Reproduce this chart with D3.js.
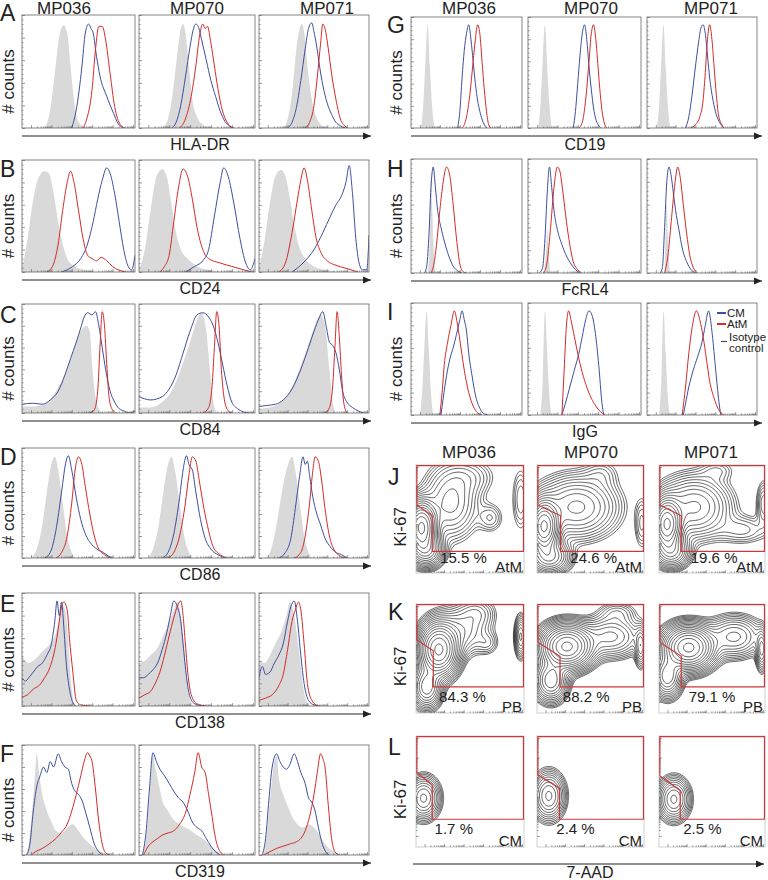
<!DOCTYPE html>
<html><head><meta charset="utf-8">
<script src="https://cdn.jsdelivr.net/npm/d3@7"></script>
<style>
body{margin:0;background:#fff}
text{font-family:"Liberation Sans",Arial,Helvetica,sans-serif;fill:#222}
</style>
</head><body>
<svg id="c" width="768" height="880"></svg>
<script>
// ---------------- DATA ----------------
const patients = ["MP036", "MP070", "MP071"];
const histLetters = ["A","B","C","D","E","F","G","H","I"];
const markers = ["HLA-DR","CD24","CD84","CD86","CD138","CD319","CD19","FcRL4","IgG"];
const legendLabels = ["CM", "AtM", "Isotype", "control"];

// histogram curves: [position % of axis, % of panel height], one array per patient
const A_iso = [
 [[20,0],[25,16],[29,48],[33,81],[37,91],[40,84],[43,54],[46,25],[50,5],[57,0]],
 [[20,0],[25,8],[29,30],[33,65],[36,88],[38,92],[40,85],[43,55],[46,25],[50,10],[55,3],[60,0]],
 [[22,0],[26,8],[30,30],[34,70],[37,88],[39,92],[41,85],[44,55],[48,25],[52,10],[56,3],[60,0]]];
const A_cm = [
 [[44,0],[48,16],[53,54],[56,84],[59,92],[61,88],[63,84],[66,63],[69,46],[75,28],[81,13],[85,4],[90,0]],
 [[28,0],[32,5],[36,20],[40,45],[44,72],[47,88],[49,92],[51,90],[54,78],[58,60],[62,42],[66,28],[70,15],[74,6],[78,2],[82,0]],
 [[26,0],[30,5],[34,18],[38,42],[42,70],[45,88],[48,93],[50,85],[52,75],[55,55],[58,38],[62,22],[66,12],[70,5],[74,2],[78,0]]];
const A_atm = [
 [[54,0],[57,7],[62,34],[65,69],[68,90],[71,90],[74,78],[78,48],[82,19],[87,3],[91,0]],
 [[35,0],[40,8],[45,28],[49,55],[52,80],[55,92],[57,88],[59,90],[62,75],[65,55],[68,35],[72,15],[76,5],[80,0]],
 [[42,0],[46,5],[50,20],[53,45],[56,75],[58,92],[60,88],[63,70],[66,48],[70,25],[74,8],[78,2],[80,0]]];

const B_iso = [
 [[0,3],[5,30],[10,65],[15,85],[20,90],[24,88],[28,70],[32,45],[36,25],[40,12],[45,6],[55,2],[65,0]],
 [[0,2],[5,20],[10,55],[15,85],[20,92],[24,85],[28,60],[32,35],[36,20],[42,12],[50,5],[60,2],[70,0]],
 [[0,3],[5,28],[10,62],[15,86],[20,91],[24,86],[28,66],[32,42],[36,24],[42,12],[50,5],[60,2],[70,0]]];
const B_cm = [
 [[35,0],[45,5],[52,12],[58,25],[63,45],[67,65],[71,82],[75,93],[78,88],[82,70],[86,45],[90,20],[94,5],[97,2],[100,15]],
 [[40,0],[48,5],[55,10],[60,20],[65,50],[70,80],[73,93],[77,85],[82,60],[87,30],[92,8],[96,2],[100,12]],
 [[30,0],[40,8],[50,20],[58,35],[65,50],[70,60],[75,68],[79,80],[82,95],[85,70],[88,30],[91,8],[94,2],[98,2],[100,33]]];
const B_atm = [
 [[22,0],[27,5],[32,25],[36,55],[40,80],[43,90],[46,80],[50,55],[54,30],[58,15],[62,12],[66,10],[70,13],[75,10],[80,5],[85,2],[92,0]],
 [[18,0],[22,5],[26,15],[30,45],[34,75],[38,92],[42,85],[46,65],[50,40],[55,20],[60,12],[70,8],[80,5],[90,2],[97,0]],
 [[18,0],[24,8],[30,35],[35,65],[38,82],[41,93],[44,82],[48,55],[52,30],[56,18],[62,10],[70,6],[80,3],[90,0]]];

const C_iso = [
 [[0,6],[10,6],[20,8],[30,20],[38,35],[45,55],[52,75],[57,80],[60,75],[62,45],[65,15],[68,4],[72,0]],
 [[0,5],[10,5],[20,10],[28,20],[36,40],[44,65],[50,85],[54,92],[58,75],[62,30],[65,5],[68,0]],
 [[0,4],[10,5],[20,10],[28,20],[36,38],[44,60],[50,78],[56,90],[60,80],[64,40],[67,10],[70,0]]];
const C_cm = [
 [[0,8],[10,9],[18,8],[25,12],[32,20],[38,35],[43,50],[48,65],[52,78],[55,88],[58,92],[62,90],[65,93],[68,80],[71,60],[74,40],[78,20],[82,10],[86,4],[90,2],[95,0],[100,2]],
 [[0,15],[10,12],[20,15],[26,22],[32,35],[38,55],[44,75],[50,90],[55,92],[60,88],[64,80],[68,65],[72,45],[76,25],[80,10],[85,4],[90,1],[95,0]],
 [[0,6],[8,7],[15,8],[22,12],[30,22],[38,40],[45,60],[50,75],[55,88],[58,93],[61,80],[64,65],[67,62],[70,55],[73,40],[76,20],[80,10],[85,5],[90,2],[95,0]]];
const C_atm = [
 [[60,0],[64,3],[67,20],[69,60],[71,93],[73,80],[75,45],[77,15],[80,3],[84,0]],
 [[55,0],[60,5],[63,25],[65,60],[67,93],[69,80],[71,40],[74,10],[77,2],[80,0]],
 [[60,0],[64,5],[67,25],[69,60],[71,93],[73,70],[75,35],[77,10],[80,0]]];

const D_iso = [
 [[8,0],[13,8],[18,30],[22,60],[26,85],[29,92],[32,80],[36,50],[40,20],[44,5],[48,0]],
 [[8,0],[12,8],[17,30],[21,60],[25,85],[28,92],[31,80],[35,50],[39,20],[43,5],[47,0]],
 [[6,0],[10,5],[15,25],[20,55],[25,80],[30,92],[33,80],[37,50],[41,20],[45,5],[49,0]]];
const D_cm = [
 [[20,0],[25,5],[30,25],[35,60],[39,88],[41,93],[44,80],[48,55],[52,35],[56,22],[62,12],[68,7],[72,5],[76,2],[80,0]],
 [[20,0],[25,5],[30,22],[35,55],[38,80],[41,93],[43,85],[46,80],[49,60],[53,35],[57,18],[62,8],[68,3],[74,0]],
 [[18,0],[24,5],[29,18],[33,45],[37,75],[40,92],[42,85],[44,88],[46,75],[49,55],[52,42],[56,30],[60,18],[65,10],[70,5],[75,3],[80,0]]];
const D_atm = [
 [[30,0],[35,5],[40,20],[44,50],[47,80],[50,92],[53,85],[56,65],[60,40],[64,20],[68,8],[73,3],[78,0]],
 [[25,0],[30,5],[35,20],[40,50],[43,75],[46,92],[49,88],[52,70],[56,45],[60,25],[64,10],[70,3],[76,0]],
 [[32,0],[38,5],[42,20],[46,50],[49,80],[51,92],[54,88],[57,70],[60,45],[64,20],[68,8],[72,3],[78,0]]];

const E_iso = [
 [[0,45],[3,40],[6,38],[10,40],[15,45],[20,50],[25,55],[30,65],[33,78],[35,90],[38,85],[40,70],[42,40],[44,15],[46,3],[48,0]],
 [[0,38],[5,40],[10,45],[15,50],[20,60],[25,72],[30,85],[33,92],[36,80],[39,50],[42,20],[44,5],[46,0]],
 [[0,40],[5,38],[10,45],[15,55],[20,65],[25,80],[28,92],[31,85],[35,60],[38,35],[41,12],[44,3],[47,0]]];
const E_cm = [
 [[0,25],[3,22],[6,25],[10,30],[14,35],[18,38],[22,45],[26,55],[29,75],[31,93],[33,80],[35,92],[37,70],[39,40],[42,15],[45,3],[48,0]],
 [[0,25],[4,25],[8,28],[12,32],[16,38],[20,50],[24,65],[27,80],[30,93],[33,88],[36,75],[38,55],[41,25],[44,8],[48,2],[55,0]],
 [[0,25],[3,35],[6,28],[10,30],[14,38],[18,45],[22,55],[26,75],[29,88],[32,93],[35,75],[38,45],[41,20],[45,5],[50,1],[56,0]]];
const E_atm = [
 [[0,8],[5,10],[10,15],[15,18],[20,25],[25,35],[30,55],[33,75],[35,88],[37,92],[40,85],[42,60],[45,30],[48,5],[52,1],[60,0]],
 [[0,7],[5,10],[10,13],[14,20],[18,30],[22,45],[26,62],[30,78],[33,88],[36,93],[38,80],[40,55],[42,30],[45,10],[50,2],[58,0]],
 [[0,5],[6,7],[12,10],[18,18],[22,28],[26,50],[30,75],[33,85],[36,92],[38,85],[41,55],[44,20],[48,5],[54,0]]];

const F_iso = [
 [[3,0],[6,10],[9,40],[12,80],[13,93],[15,75],[18,55],[22,40],[26,30],[30,22],[35,20],[40,25],[45,28],[50,22],[55,15],[60,10],[66,5],[72,2],[78,0]],
 [[3,0],[6,15],[9,50],[12,90],[14,80],[17,65],[20,50],[25,40],[30,32],[35,28],[40,25],[45,22],[50,18],[55,15],[60,10],[65,5],[70,2],[75,0]],
 [[3,0],[6,10],[10,50],[14,85],[16,90],[18,70],[22,55],[26,45],[30,35],[35,28],[40,25],[45,28],[50,25],[55,18],[60,10],[65,5],[70,2],[75,0]]];
const F_cm = [
 [[4,0],[7,10],[10,40],[13,62],[16,72],[19,80],[22,75],[25,85],[28,80],[32,92],[35,85],[38,80],[41,78],[44,65],[47,58],[50,55],[53,50],[56,40],[60,25],[64,10],[68,3],[72,0]],
 [[3,0],[6,20],[9,60],[12,93],[15,85],[18,78],[22,72],[26,65],[30,58],[34,52],[38,48],[42,40],[46,30],[50,25],[54,22],[58,15],[62,8],[66,3],[70,0]],
 [[3,0],[6,15],[9,50],[12,80],[16,92],[19,85],[22,80],[25,78],[28,82],[32,92],[35,85],[38,75],[42,65],[45,52],[48,48],[51,40],[54,25],[57,12],[60,4],[64,0]]];
const F_atm = [
 [[8,0],[12,3],[18,6],[24,10],[30,15],[36,22],[40,28],[44,40],[48,55],[52,72],[55,85],[58,93],[60,90],[62,85],[65,60],[68,30],[71,10],[74,2],[78,0]],
 [[4,0],[8,8],[12,12],[16,15],[20,18],[25,20],[30,22],[35,28],[40,38],[44,55],[48,75],[51,93],[54,80],[57,75],[60,55],[63,35],[66,15],[70,3],[74,0]],
 [[4,0],[10,3],[16,6],[22,8],[28,10],[34,12],[38,15],[42,22],[46,35],[50,55],[53,75],[56,92],[58,88],[60,80],[63,45],[66,15],[69,3],[73,0]]];

const G_iso = [
 [[9,0],[11,20],[13,60],[15,93],[17,55],[19,20],[21,0]],
 [[9,0],[11,20],[13,60],[15,93],[17,55],[19,20],[21,0]],
 [[9,0],[11,20],[13,60],[15,93],[17,55],[19,20],[21,0]]];
const G_cm = [
 [[42,0],[44,15],[46,45],[48,70],[50,85],[52,93],[54,80],[56,60],[58,40],[60,25],[62,15],[64,8],[66,3],[68,0]],
 [[40,0],[42,15],[44,40],[46,65],[48,85],[50,93],[52,80],[54,55],[56,35],[58,18],[60,8],[62,3],[65,0]],
 [[35,0],[38,10],[41,30],[44,55],[47,78],[49,90],[51,93],[53,85],[55,65],[57,45],[60,25],[63,12],[66,5],[70,0]]];
const G_atm = [
 [[46,0],[48,3],[50,10],[53,30],[56,60],[58,80],[60,93],[62,85],[64,60],[66,35],[68,15],[70,3],[72,0]],
 [[45,0],[48,5],[51,25],[54,60],[56,85],[58,93],[60,80],[62,55],[64,30],[66,12],[68,3],[70,0]],
 [[40,0],[44,3],[48,10],[51,25],[53,50],[55,80],[57,93],[59,80],[61,55],[63,30],[65,12],[68,3],[70,0]]];

const H_iso = [
 [[15,0],[17,30],[18,90],[19,60],[21,10],[22,0]],
 [[14,0],[16,20],[17,40],[18,20],[20,0]],
 [[16,0],[17,40],[18,60],[19,30],[21,0]]];
const H_cm = [
 [[12,0],[14,5],[16,30],[18,75],[20,93],[22,75],[24,55],[27,40],[30,28],[34,15],[38,6],[42,2],[46,0]],
 [[10,0],[13,5],[15,30],[17,70],[19,93],[21,75],[23,55],[26,38],[30,25],[34,15],[38,8],[42,3],[46,0]],
 [[12,0],[14,5],[16,40],[18,80],[20,93],[22,85],[24,70],[26,55],[29,38],[32,22],[36,10],[40,3],[44,0]]];
const H_atm = [
 [[18,0],[20,5],[23,25],[26,55],[29,80],[32,93],[35,85],[38,60],[41,30],[44,8],[47,1],[50,0]],
 [[14,0],[17,10],[20,40],[23,75],[26,93],[28,90],[31,70],[34,45],[37,25],[40,10],[44,3],[48,0]],
 [[16,0],[19,15],[22,45],[25,75],[28,93],[30,85],[33,60],[36,35],[39,15],[42,5],[46,0]]];

const I_iso = [
 [[8,0],[10,20],[12,60],[14,93],[16,60],[18,20],[20,0]],
 [[11,0],[13,30],[15,93],[17,55],[19,15],[21,0]],
 [[11,0],[13,30],[15,93],[17,55],[19,15],[21,0]]];
const I_cm = [
 [[27,0],[29,15],[32,35],[35,50],[38,60],[41,72],[44,85],[46,93],[48,85],[50,75],[52,55],[55,35],[58,18],[62,6],[66,1],[70,0]],
 [[30,0],[33,10],[37,25],[41,40],[45,55],[48,70],[51,85],[54,93],[57,88],[60,70],[63,40],[65,15],[67,0]],
 [[33,0],[35,10],[38,25],[42,40],[46,52],[50,65],[53,80],[56,93],[59,75],[62,45],[65,15],[67,0]]];
const I_atm = [
 [[26,0],[28,20],[30,45],[33,65],[36,80],[39,93],[42,80],[45,60],[48,40],[52,20],[56,8],[60,2],[64,0]],
 [[30,0],[32,40],[34,80],[36,93],[38,85],[41,70],[44,55],[48,38],[52,25],[56,15],[60,8],[64,3],[68,0]],
 [[32,0],[35,25],[38,55],[41,78],[45,93],[48,85],[51,70],[54,50],[57,30],[61,15],[65,5],[70,0]]];

// contour plots (7-AAD vs Ki-67): density blobs [x, y, spreadX, spreadY, weight]
const contourLetters = ["J","K","L"];
const contourSubsets = ["AtM","PB","CM"];
const J_percent = [15.5, 24.6, 19.6];
const K_percent = [84.3, 88.2, 79.1];
const L_percent = [1.7, 2.4, 2.5];
const J_blobs = [
 [[5,42,7,12,1],[10,21,8,8,0.3],[32,65,14,18,0.12],[47,89,15,10,0.04],[69,51,7,8,0.035],[97,68,5,18,0.035]],
 [[6.5,43,7,12,1],[12,15,10,8,0.25],[37,61,20,15,0.2],[60,92,10,8,0.025],[98,46,4,14,0.04]],
 [[7.5,45,7,12,1],[12,20,9,8,0.25],[33,61,18,15,0.2],[79,40,15,8,0.04],[99,64,4,12,0.06],[55,95,10,6,0.025]]];
const K_blobs = [
 [[21,58,9,12,1],[10,24,7,10,0.3],[40,75,15,12,0.1],[56,92,10,8,0.05],[66,64,6,6,0.03],[97,70,3,10,0.15]],
 [[28,61,12,10,1],[13,30,8,10,0.3],[69,70,15,10,0.15],[75,92,10,6,0.04],[97,61,3,10,0.12]],
 [[28,60,12,10,1],[8,34,7,10,0.3],[71,70,14,10,0.15],[97,58,3,10,0.15]]];
const L_blobs = [
 [[7,44,7,9,1]],
 [[11,46,7,10,1]],
 [[14,43,7,9,1]]];
// gates: [notch x, left y, notch y, bottom y]
const J_gates = [[15,63,53,20],[22,63,53,20],[21,63,53,20]];
const K_gates = [[16,67,57,24],[21.5,65,52,24],[21,65,52,24]];
const L_gates = [[15,67,56,25],[21,65,53,25],[20,64,51,25]];

// ---------------- LAYOUT ----------------
const leftCols = [[22,135],[139,255],[259,369]];
const rightCols = [[411,522],[528,641],[647,757]];
const rowBox = {
  A:{cols:leftCols, top:15, bottom:128, lb:21},  B:{cols:leftCols, top:160, bottom:272, lb:177},
  C:{cols:leftCols, top:304, bottom:413, lb:323}, D:{cols:leftCols, top:448, bottom:558, lb:465},
  E:{cols:leftCols, top:593, bottom:706, lb:612}, F:{cols:leftCols, top:745, bottom:855, lb:762},
  G:{cols:rightCols, top:17, bottom:128, lb:33},  H:{cols:rightCols, top:159, bottom:273, lb:177},
  I:{cols:rightCols, top:303, bottom:415, lb:320}
};
const cCols = [[416,524],[537,644],[659,765]];
const cBox = {J:{top:465,bottom:573,lb:485}, K:{top:604,bottom:713,lb:620}, L:{top:736,bottom:847,lb:755}};
const pctX = {J:[0.44,0.53,0.52], K:[0.43,0.46,0.5], L:[0.35,0.36,0.41]};

const BLUE = "#3d4f9f", RED = "#d42a2a", GRAY = "#d9d9d9";

const histTable = {
  A:[A_iso,A_cm,A_atm], B:[B_iso,B_cm,B_atm], C:[C_iso,C_cm,C_atm],
  D:[D_iso,D_cm,D_atm], E:[E_iso,E_cm,E_atm], F:[F_iso,F_cm,F_atm],
  G:[G_iso,G_cm,G_atm], H:[H_iso,H_cm,H_atm], I:[I_iso,I_cm,I_atm]
};
const contourTable = {
  J:{blobs:J_blobs, gates:J_gates, pct:J_percent},
  K:{blobs:K_blobs, gates:K_gates, pct:K_percent},
  L:{blobs:L_blobs, gates:L_gates, pct:L_percent}
};

const svg = d3.select("#c");
const defs = svg.append("defs");
defs.append("marker").attr("id","arr").attr("viewBox","0 -4 8 8").attr("refX",8).attr("refY",0)
  .attr("markerWidth",8).attr("markerHeight",8).attr("markerUnits","userSpaceOnUse").attr("orient","auto")
  .append("path").attr("d","M0,-3.5L8,0L0,3.5Z").attr("fill","#222");

let clipN = 0;
function clipRect(x0,y0,w,h){
  const id = "cl"+(clipN++);
  defs.append("clipPath").attr("id",id).append("rect").attr("x",x0).attr("y",y0).attr("width",w).attr("height",h);
  return "url(#"+id+")";
}

function logTicks(g, x0, x1, y0, y1, orient, tickLen){
  if (orient === "bottom"){
    const s = d3.scaleLog().domain([1,1e5]).range([x0+(x1-x0)*0.08, x1-2]);
    const ax = g.append("g").attr("transform",`translate(0,${y1})`)
      .call(d3.axisBottom(s).ticks(40).tickSize(-tickLen).tickFormat(""));
    ax.select(".domain").remove();
    ax.selectAll(".tick line").attr("stroke","#555").attr("stroke-width",0.6)
      .attr("y2", d => Math.log10(d)%1===0 ? -tickLen*1.8 : -tickLen);
  } else {
    const s = d3.scaleLog().domain([1,1e5]).range([y1-(y1-y0)*0.1, y0+2]);
    const ax = g.append("g").attr("transform",`translate(${x0},0)`)
      .call(d3.axisLeft(s).ticks(40).tickSize(-tickLen).tickFormat(""));
    ax.select(".domain").remove();
    ax.selectAll(".tick line").attr("stroke","#555").attr("stroke-width",0.6)
      .attr("x2", d => Math.log10(d)%1===0 ? tickLen*1.8 : tickLen);
  }
}

function histPanel(x0,x1,y0,y1, iso, cm, atm){
  const x = d3.scaleLinear().domain([0,100]).range([x0,x1]);
  const y = d3.scaleLinear().domain([0,100]).range([y1,y0]);
  const g = svg.append("g");
  const inner = g.append("g").attr("clip-path", clipRect(x0,y0,x1-x0,y1-y0));
  inner.append("path").datum(iso)
    .attr("d", d3.area().x(d=>x(d[0])).y0(y(0)).y1(d=>y(d[1])).curve(d3.curveMonotoneX))
    .attr("fill", GRAY);
  const ln = d3.line().x(d=>x(d[0])).y(d=>y(d[1])).curve(d3.curveMonotoneX);
  inner.append("path").datum(cm).attr("d",ln).attr("fill","none").attr("stroke",BLUE).attr("stroke-width",1);
  inner.append("path").datum(atm).attr("d",ln).attr("fill","none").attr("stroke",RED).attr("stroke-width",1);
  const ya = g.append("g").attr("transform",`translate(${x0},0)`)
    .call(d3.axisLeft(y).tickValues(d3.range(0,101,4)).tickSize(-1.5).tickFormat(""));
  ya.select(".domain").remove();
  ya.selectAll(".tick line").attr("stroke","#555").attr("stroke-width",0.6)
    .attr("x2", d => d%20===0 ? 3 : 1.5);
  logTicks(g, x0, x1, y0, y1, "bottom", 1.6);
  g.append("rect").attr("x",x0).attr("y",y0).attr("width",x1-x0).attr("height",y1-y0)
    .attr("fill","none").attr("stroke","#666").attr("stroke-width",0.8);
}

function contourPanel(x0,x1,y0,y1, blobs, gate, levels, minFrac){
  const x = d3.scaleLinear().domain([0,100]).range([x0,x1]);
  const y = d3.scaleLinear().domain([0,100]).range([y1,y0]);
  const g = svg.append("g");
  const n = 130, lo = -12, hi = 112;
  const values = new Float64Array(n*n);
  for (let j=0;j<n;j++) for (let i=0;i<n;i++){
    const dx = lo+(hi-lo)*i/(n-1), dy = hi-(hi-lo)*j/(n-1);
    let v = 0;
    for (const b of blobs) v += b[4]*Math.exp(-((dx-b[0])**2/(2*b[2]*b[2]) + (dy-b[1])**2/(2*b[3]*b[3])));
    values[j*n+i] = v;
  }
  const mx = d3.max(values);
  const th = d3.range(levels).map(k => mx*Math.exp(Math.log(minFrac)+(Math.log(0.92)-Math.log(minFrac))*k/(levels-1)));
  const cs = d3.contours().size([n,n]).thresholds(th)(values);
  const proj = d3.geoTransform({point(px,py){
    this.stream.point(x(lo+(hi-lo)*(px-0.5)/(n-1)), y(hi-(hi-lo)*(py-0.5)/(n-1)));
  }});
  const path = d3.geoPath(proj);
  const inner = g.append("g").attr("clip-path", clipRect(x0,y0,x1-x0,y1-y0));
  inner.selectAll("path").data(cs).join("path").attr("d",path)
    .attr("fill","none").attr("stroke","#2b2b2b").attr("stroke-width",0.75);
  g.append("rect").attr("x",x0).attr("y",y0).attr("width",x1-x0).attr("height",y1-y0)
    .attr("fill","none").attr("stroke","#c4c4c4").attr("stroke-width",0.8);
  logTicks(g, x0, x1, y0, y1, "bottom", 1.6);
  logTicks(g, x0, x1, y0, y1, "left", 1.6);
  const [nx, ly, ny, by] = gate;
  const poly = [[0.8,99.5],[99.5,99.5],[99.5,by],[nx,by],[nx,ny],[0.8,ly]];
  g.append("path").datum(poly)
    .attr("d", d3.line().x(d=>x(d[0])).y(d=>y(d[1])).curve(d3.curveLinearClosed))
    .attr("fill","none").attr("stroke","#c8393b").attr("stroke-width",1.2);
}

function arrow(x1,x2,yy){
  svg.append("line").attr("x1",x1).attr("x2",x2-1).attr("y1",yy).attr("y2",yy)
    .attr("stroke","#222").attr("stroke-width",1).attr("marker-end","url(#arr)");
}
function rotText(txt, xx, yy, size){
  svg.append("text").attr("transform",`translate(${xx},${yy}) rotate(-90)`)
    .attr("text-anchor","middle").attr("font-size",size).text(txt);
}

// ---------------- DRAW ----------------
histLetters.forEach((L, r) => {
  const box = rowBox[L];
  const [iso, cm, atm] = histTable[L];
  box.cols.forEach((c, i) => histPanel(c[0], c[1], box.top, box.bottom, iso[i], cm[i], atm[i]));
  const isLeft = box.cols === leftCols;
  const ax0 = isLeft ? 22 : 411, ax1 = isLeft ? 372 : 763;
  arrow(ax0, ax1, box.bottom+8);
  svg.append("text").attr("x", isLeft ? 200 : 585).attr("y", box.bottom+22)
    .attr("text-anchor","middle").attr("font-size",16).text(markers[r]);
  rotText("# counts", isLeft ? 14 : 402, (box.top+box.bottom)/2+10, 17);
  svg.append("text").attr("x", isLeft ? 0 : 387).attr("y", box.lb).attr("font-size",23).attr("fill","#111").text(L);
});

const titleLeft = [64,197,327], titleRight = [469,591,711];
patients.forEach((p,i) => {
  svg.append("text").attr("x",titleLeft[i]).attr("y",14).attr("text-anchor","middle").attr("font-size",17).text(p);
  svg.append("text").attr("x",titleRight[i]).attr("y",14).attr("text-anchor","middle").attr("font-size",17).text(p);
  svg.append("text").attr("x",titleRight[i]).attr("y",458).attr("text-anchor","middle").attr("font-size",17).text(p);
});

const lg = svg.append("g");
[[BLUE,313,317,legendLabels[0]],[RED,324,328,legendLabels[1]]].forEach(d => {
  lg.append("line").attr("x1",717).attr("x2",726).attr("y1",d[1]).attr("y2",d[1]).attr("stroke",d[0]).attr("stroke-width",2);
  lg.append("text").attr("x",727).attr("y",d[2]).attr("font-size",11.5).text(d[3]);
});
lg.append("line").attr("x1",721).attr("x2",727).attr("y1",341.5).attr("y2",341.5).attr("stroke","#555").attr("stroke-width",1.2);
lg.append("text").attr("x",729).attr("y",341).attr("font-size",11.5).text(legendLabels[2]);
lg.append("text").attr("x",729).attr("y",352).attr("font-size",11.5).text(legendLabels[3]);

contourLetters.forEach((L, r) => {
  const box = cBox[L], ct = contourTable[L];
  const isL = L === "L";
  cCols.forEach((c, i) => {
    contourPanel(c[0], c[1], box.top, box.bottom, ct.blobs[i], ct.gates[i], isL ? 11 : 17, isL ? 0.03 : 0.012);
    const w = c[1]-c[0];
    svg.append("text").attr("x", c[0]+w*pctX[L][i]).attr("y", box.top+98)
      .attr("text-anchor","middle").attr("font-size",15).text(ct.pct[i].toFixed(1)+" %");
    svg.append("text").attr("x", c[1]-2).attr("y", box.bottom-1)
      .attr("text-anchor","end").attr("font-size",15).text(contourSubsets[r]);
  });
  rotText("Ki-67", 406, (box.top+box.bottom)/2+8, 17);
  svg.append("text").attr("x",388).attr("y",box.lb).attr("font-size",23).attr("fill","#111").text(L);
});
arrow(413, 765, 864);
svg.append("text").attr("x",590).attr("y",878).attr("text-anchor","middle").attr("font-size",16).text("7-AAD");
</script>
</body></html>
